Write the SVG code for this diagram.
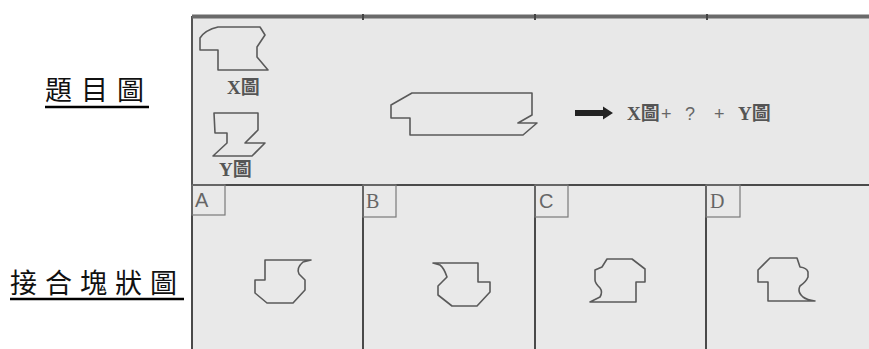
<svg xmlns="http://www.w3.org/2000/svg" width="869" height="349" viewBox="0 0 869 349">
<style>
.shape{fill:none;stroke:#5a5a5a;stroke-width:1.6;stroke-linejoin:round}
.cell{fill:#e9e9e9;stroke:#4a4a4a;stroke-width:2}
.tag{fill:none;stroke:#7a7a7a;stroke-width:1.2}
.lbl{font-family:"Noto Sans CJK TC","Noto Sans CJK SC",serif;font-size:27px;fill:#111}
.fx{font-family:"Liberation Serif","Noto Sans CJK TC",serif;font-weight:bold;font-size:19px;fill:#555}
.op{font-family:"Liberation Sans",sans-serif;font-size:18px;fill:#666}
.letA{font-family:"Liberation Sans",sans-serif;font-size:20px;fill:#666}
.letB{font-family:"Liberation Serif",serif;font-size:20px;fill:#666}
</style>
<rect width="869" height="349" fill="#ffffff"/>
<g id="labels">
<text class="lbl" x="45" y="100" letter-spacing="9">題目圖</text>
<line x1="45" y1="107" x2="149" y2="107" stroke="#000" stroke-width="2.5"/>
<text class="lbl" x="10" y="293" letter-spacing="8">接合塊狀圖</text>
<line x1="10" y1="299" x2="184" y2="299" stroke="#000" stroke-width="2.5"/>
</g>
<g id="question-panel">
<rect x="192" y="17" width="680" height="168" fill="#e8e8e8" stroke="#555" stroke-width="2"/>
<line x1="192" y1="16.5" x2="869" y2="16.5" stroke="#6a6a6a" stroke-width="4"/>
<line x1="363" y1="14" x2="363" y2="20" stroke="#444" stroke-width="2"/>
<line x1="535" y1="14" x2="535" y2="20" stroke="#444" stroke-width="2"/>
<line x1="707" y1="14" x2="707" y2="20" stroke="#444" stroke-width="2"/>
<path class="shape" d="M218,27 L260,27 L265,35 L257,47 L257,57 L268,70 L218,70 L218,50 L200,50 L200,38 Q205,30 218,27 Z"/>
<text class="fx" x="227" y="94">X圖</text>
<path class="shape" d="M214,113 L258,113 L258,130 L245,143 L265,143 L252,156 L213,156 L227,143 L227,133 L215,133 Z"/>
<text class="fx" x="219" y="176">Y圖</text>
<path class="shape" d="M412,93 L532,93 L532,115 L518,123 L537,123 L523,135 L410,135 L410,118 L391,118 L391,105 L405,97 Z"/>
<path d="M575,110 L603,110 L603,106.5 L613,113 L603,119.5 L603,116 L575,116 Z" fill="#222"/>
<text class="fx" x="627" y="120">X圖</text>
<text class="op" x="661" y="120">+</text>
<text class="op" x="685" y="120" font-size="24">?</text>
<text class="op" x="714" y="120">+</text>
<text class="fx" x="738" y="120">Y圖</text>
</g>
<g id="option-A">
<rect class="cell" x="192" y="185" width="171" height="170"/>
<rect class="tag" x="192" y="185" width="33" height="30"/>
<text class="letA" x="195" y="207">A</text>
<path class="shape" d="M265,260 L311,260 L303,262 Q296,268 299,274 L305,280 L305,290 L293,303 L267,303 L255,293 L255,280 L265,280 Z"/>
</g>
<g id="option-B">
<rect class="cell" x="363" y="185" width="172" height="170"/>
<rect class="tag" x="363" y="185" width="33" height="32"/>
<text class="letB" x="366" y="208">B</text>
<path class="shape" d="M433,263 L478,263 L478,282 L490,282 L490,292 L477,306 L452,306 L438,295 L438,286 L447,277 Q444,268 440,265 Z"/>
</g>
<g id="option-C">
<rect class="cell" x="535" y="185" width="171" height="170"/>
<rect class="tag" x="535" y="185" width="33" height="32"/>
<text class="letA" x="539" y="208">C</text>
<path class="shape" d="M607,259 L632,259 L645,269 L645,282 L636,282 L636,302 L590,302 L600,297 Q603,292 600,288 Q595,283 595,280 L595,270 L602,267 Z"/>
</g>
<g id="option-D">
<rect class="cell" x="706" y="185" width="170" height="170"/>
<rect class="tag" x="706" y="185" width="34" height="32"/>
<text class="letB" x="710" y="208">D</text>
<path class="shape" d="M770,258 L797,258 L800,267 Q807,268 808,272 L808,277 Q806,282 800,286 Q797,292 803,297 Q807,300 815,301 L768,301 L768,282 L758,282 L758,270 Z"/>
</g>
</svg>
